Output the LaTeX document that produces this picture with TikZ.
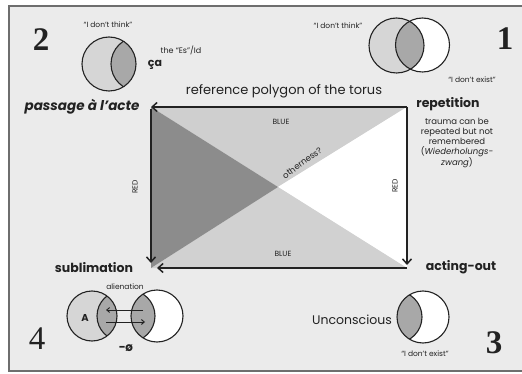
\documentclass[tikz,border=0pt]{standalone}
\usepackage{fontspec}
\setmainfont{Poppins}
\newfontfamily\numfont{Liberation Serif}
\usetikzlibrary{arrows.meta}
\definecolor{bg}{HTML}{EBEBEB}
\definecolor{framec}{HTML}{6E6E6E}
\definecolor{lightg}{HTML}{D6D6D6}
\definecolor{midg}{HTML}{A8A8A8}
\definecolor{darkg}{HTML}{8C8C8C}
\definecolor{trig}{HTML}{CFCFCF}
\definecolor{ink}{HTML}{222222}
\begin{document}
\begin{tikzpicture}[x=1pt,y=-1pt,
  arr/.style={draw=ink,line width=1.5pt,-{Straight Barb[length=5pt,width=9pt,line width=1.5pt]}},
  circ/.style={draw=ink,line width=1.1pt},
  num/.style={font=\numfont\bfseries\fontsize{33}{33}\selectfont,inner sep=0pt,text=ink},
  lbl/.style={font=\bfseries\fontsize{12.5}{14}\selectfont,inner sep=0pt,text=ink},
  tiny/.style={font=\fontsize{7.5}{8}\selectfont,inner sep=0pt,text=ink},
  small/.style={font=\fontsize{8.5}{10}\selectfont,inner sep=0pt,text=ink,align=center}]
\useasboundingbox (0,0) rectangle (522,374);
\fill[white] (0,0) rectangle (522,374);
\draw[framec,line width=2pt,fill=bg] (9,6) rectangle (532,371);

% torus polygon
\coordinate (TL) at (151,107);
\coordinate (TR) at (407,107);
\coordinate (BR) at (407,268);
\coordinate (BL) at (151,268);
\coordinate (C) at (278,187);
\fill[trig] (TL) -- (TR) -- (C) -- cycle;
\fill[white] (TR) -- (BR) -- (C) -- cycle;
\fill[trig!95!white] (BR) -- (BL) -- (C) -- cycle;
\fill[darkg] (BL) -- (TL) -- (C) -- cycle;
\coordinate (TLa) at (151,109);
\coordinate (BLa) at (151,263);
\coordinate (BRa) at (407,265);
\coordinate (BRb) at (407,268);
\coordinate (BLb) at (157,268);
\draw[arr] (TR) -- (TL);
\draw[arr] (TLa) -- (BLa);
\draw[arr] (TR) -- (BRa);
\draw[arr] (BRb) -- (BLb);

\node[font=\fontsize{13}{15}\selectfont,text=ink,inner sep=0pt] (title) at (284,91) {reference polygon of the torus};
\node[tiny] (blue1) at (281,122) {BLUE};
\node[tiny] (blue2) at (283,254) {BLUE};
\node[tiny,rotate=90] (red1) at (135,187) {RED};
\node[tiny,rotate=90] (red2) at (395,186) {RED};
\node[tiny,font=\fontsize{8.5}{9}\selectfont,rotate=36] (oth) at (302,163) {otherness?};

\node[lbl,font=\bfseries\itshape\fontsize{13.5}{15}\selectfont] (pass) at (82,107) {passage à l'acte};
\node[lbl] (rep) at (448,104) {repetition};
\node[small] (repnote) at (457,143) {trauma can be\\repeated but not\\remembered\\(\textit{Wiederholungs-}\\\textit{zwang})};
\node[lbl] (subl) at (94,268) {sublimation};
\node[lbl] (act) at (461,267) {acting-out};
\node[font=\fontsize{12.5}{14}\selectfont,text=ink] (unc) at (352,320) {Unconscious};

% numbers
\node[num] (n2) at (41,40) {2};
\node[num] (n1) at (505,39) {1};
\node[num,font=\numfont\fontsize{33}{33}\selectfont] (n4) at (37,339) {4};
\node[num] (n3) at (494,343) {3};

% Venn 2 (top left)
\coordinate (v2) at (109,64);
\coordinate (v2b) at (138,64);
\fill[lightg] (v2) circle[radius=27];
\begin{scope}
\clip (v2) circle[radius=27];
\fill[midg] (v2b) circle[radius=27];
\draw[circ] (v2b) circle[radius=27];
\end{scope}
\draw[circ] (v2) circle[radius=27];
\node[tiny] (t2) at (108,25) {“I don't think”};
\node[tiny,font=\fontsize{8}{9}\selectfont] (es) at (181,50) {the “Es”/Id};
\node[lbl,font=\bfseries\fontsize{11}{12}\selectfont] (ca) at (155,65) {ça};

% Venn 1 (top right)
\coordinate (v1a) at (396.5,45.5);
\coordinate (v1b) at (422.5,45);
\fill[lightg] (v1a) circle[radius=27.5];
\fill[white] (v1b) circle[radius=27];
\begin{scope}
\clip (v1a) circle[radius=27.5];
\fill[midg] (v1b) circle[radius=27];
\end{scope}
\draw[circ] (v1a) circle[radius=27.5];
\draw[circ] (v1b) circle[radius=27];
\node[tiny] (t1) at (338,26) {“I don't think”};
\node[tiny] (e1) at (472,80) {“I don't exist”};

% Venn 3 (bottom right)
\coordinate (v3) at (423,317);
\coordinate (v3b) at (396,317);
\fill[white] (v3) circle[radius=26];
\begin{scope}
\clip (v3) circle[radius=26];
\fill[midg] (v3b) circle[radius=26];
\draw[circ] (v3b) circle[radius=26];
\end{scope}
\draw[circ] (v3) circle[radius=26];
\node[tiny] (e3) at (425,354) {“I don't exist”};

% Venn 4 (bottom left)
\coordinate (v4a) at (92,316);
\coordinate (v4ab) at (122,316);
\coordinate (v4b) at (157,316);
\coordinate (v4bb) at (129,316);
\fill[lightg] (v4a) circle[radius=25];
\begin{scope}
\clip (v4a) circle[radius=25];
\fill[midg] (v4ab) circle[radius=25];
\draw[circ] (v4ab) circle[radius=25];
\end{scope}
\draw[circ] (v4a) circle[radius=25];
\fill[white] (v4b) circle[radius=26];
\begin{scope}
\clip (v4b) circle[radius=26];
\fill[midg] (v4bb) circle[radius=26];
\draw[circ] (v4bb) circle[radius=26];
\end{scope}
\draw[circ] (v4b) circle[radius=26];
\coordinate (a1s) at (143,310);
\coordinate (a1e) at (106,310);
\coordinate (a2s) at (106,322);
\coordinate (a2e) at (145,322);
\draw[draw=ink,line width=0.9pt,-{Straight Barb[length=3pt,width=5pt]}] (a1s) -- (a1e);
\draw[draw=ink,line width=0.9pt,-{Straight Barb[length=3pt,width=5pt]}] (a2s) -- (a2e);
\node[tiny] (alien) at (125,287) {alienation};
\node[tiny,font=\bfseries\fontsize{10}{10}\selectfont] (A) at (85,318) {A};
\node[tiny,font=\bfseries\fontsize{12}{12}\selectfont] (phi) at (126,348) {−ø};
\end{tikzpicture}
\end{document}
